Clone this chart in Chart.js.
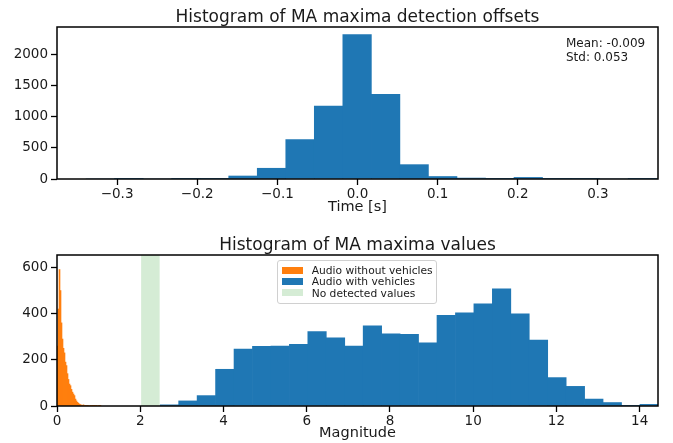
<!DOCTYPE html>
<html>
<head>
<meta charset="utf-8">
<script src="https://cdn.jsdelivr.net/npm/chart.js@4/dist/chart.umd.min.js"></script>
<style>
html,body{margin:0;padding:0;background:#fff;}
#wrap{position:relative;width:673px;height:443px;overflow:hidden;font-family:"DejaVu Sans",sans-serif;color:#1a1a1a;}
canvas{position:absolute;left:0;}
#c1{top:0;}
#c2{top:222px;}
.title{position:absolute;left:0;width:715px;text-align:center;font-size:17px;line-height:20px;white-space:nowrap;}
.stats{position:absolute;left:566px;top:35.5px;font-size:12px;line-height:14px;white-space:nowrap;}
.legend{position:absolute;left:277px;top:260px;width:158px;height:42px;border:1px solid #d0d0d0;border-radius:3px;background:rgba(255,255,255,0.8);font-size:10.7px;}
.legend .row{position:absolute;left:4.3px;height:11px;line-height:11px;white-space:nowrap;}
.legend .sw{display:inline-block;width:21px;height:7px;vertical-align:middle;margin-right:8.4px;position:relative;top:-1px;}
</style>
</head>
<body>
<div id="wrap">
  <canvas id="c1" width="673" height="222"></canvas>
  <canvas id="c2" width="673" height="221"></canvas>
  <div class="title" style="top:5.7px">Histogram of MA maxima detection offsets</div>
  <div class="title" style="top:234px">Histogram of MA maxima values</div>
  <div class="stats">Mean: -0.009<br>Std: 0.053</div>
  <div class="legend">
    <div class="row" style="top:4px"><span class="sw" style="background:#ff7f0e"></span>Audio without vehicles</div>
    <div class="row" style="top:15.3px"><span class="sw" style="background:#1f77b4"></span>Audio with vehicles</div>
    <div class="row" style="top:26.6px"><span class="sw" style="background:#d5ecd5"></span>No detected values</div>
  </div>
</div>
<script>
// ---- Top histogram: detection offsets (bin centers, seconds) ----
const offsetBinCenters = [-0.3209, -0.2853, -0.2497, -0.2141, -0.1785, -0.1429, -0.1073, -0.0717, -0.0361, -0.0005,
                          0.0351, 0.0707, 0.1063, 0.1419, 0.1775, 0.2131, 0.2487, 0.2843, 0.3199, 0.3555];
const offsetCounts = [0, 1, 0, 2, 3, 48, 172, 632, 1168, 2313, 1355, 230, 40, 15, 3, 25, 2, 1, 0, 1];
const offsetXRange = [-0.375, 0.375];
const offsetYMax = 2435;
const offsetXTicks = [-0.3, -0.2, -0.1, 0.0, 0.1, 0.2, 0.3];
const offsetYTicks = [0, 500, 1000, 1500, 2000];

// ---- Bottom histogram: maxima values ----
const withoutVehCenters = [0.012, 0.036, 0.060, 0.084, 0.108, 0.132, 0.156, 0.180, 0.204, 0.228, 0.252, 0.276,
                           0.300, 0.324, 0.348, 0.372, 0.396, 0.420, 0.444, 0.468, 0.492, 0.516, 0.540, 0.564,
                           0.588, 0.612, 0.636, 0.660, 0.684, 0.708, 0.732, 0.756, 0.780, 0.804, 0.828, 0.852,
                           0.876, 0.900, 0.924, 0.948, 0.972, 0.996, 1.020, 1.044];
const withoutVehCounts = [260, 420, 591, 500, 360, 290, 250, 230, 190, 175, 140, 115,
                          95, 88, 72, 60, 52, 45, 30, 22, 16, 12, 8, 6,
                          4, 3, 5, 2, 1, 3, 1, 2, 0, 1, 2, 1,
                          3, 1, 2, 1, 0, 2, 1, 1];
const withVehCenters = [2.702, 3.145, 3.588, 4.032, 4.475, 4.918, 5.362, 5.805, 6.248, 6.692, 7.135, 7.578, 8.022,
                        8.465, 8.908, 9.352, 9.795, 10.238, 10.682, 11.125, 11.568, 12.012, 12.455, 12.898,
                        13.342, 13.785, 14.228];
const withVehCounts = [5, 22, 45, 159, 247, 258, 260, 267, 322, 295, 260, 347, 313,
                       310, 274, 393, 403, 443, 508, 399, 286, 123, 85, 30,
                       15, 3, 7];
const noDetectedRange = [2.02, 2.47];
const valuesXRange = [0, 14.44];
const valuesYMax = 654;
const valuesXTicks = [0, 2, 4, 6, 8, 10, 12, 14];
const valuesYTicks = [0, 200, 400, 600];

const FONT = "'DejaVu Sans', sans-serif";
const TXT = '#1a1a1a';

const framePlugin = {
  id: 'frame',
  afterDraw(chart) {
    const {ctx, chartArea: a} = chart;
    ctx.save();
    ctx.strokeStyle = '#000';
    ctx.lineWidth = 1.5;
    ctx.strokeRect(a.left, a.top, a.right - a.left, a.bottom - a.top);
    ctx.restore();
  }
};

const setTicks = arr => (s => { s.ticks = arr.map(v => ({value: v})); });

function xScale(range, tickVals, fmt, title, height, titlePadBottom) {
  return {
    type: 'linear', min: range[0], max: range[1], offset: false,
    grid: {display: true, drawOnChartArea: false, drawTicks: true, tickLength: 6, tickWidth: 1.3, tickColor: '#000', offset: false},
    border: {display: false},
    afterBuildTicks: setTicks(tickVals),
    ticks: {autoSkip: false, maxRotation: 0, padding: 1.5, color: TXT,
            font: {family: FONT, size: 13.5}, callback: fmt},
    title: {display: true, text: title, color: TXT, font: {family: FONT, size: 14.5}, padding: {top: 0, bottom: titlePadBottom}},
    afterFit(s) { s.height = height; }
  };
}
function yScale(max, tickVals) {
  return {
    type: 'linear', min: 0, max: max,
    grid: {display: true, drawOnChartArea: false, drawTicks: true, tickLength: 6, tickWidth: 1.3, tickColor: '#000'},
    border: {display: false},
    afterBuildTicks: setTicks(tickVals),
    ticks: {padding: 3, color: TXT, font: {family: FONT, size: 13.5},
            callback: v => String(Math.round(v))},
    afterFit(s) { s.width = 57; }
  };
}
// contiguous histogram bars: each bar spans half-way to its neighbours
const binBars = {borderWidth: 0, barThickness: 'flex', barPercentage: 1, categoryPercentage: 1};
// fine-binned series overlaid (not grouped) on the same axis, width = its own bin spacing
const fineBars = {borderWidth: 0, barPercentage: 1, categoryPercentage: 1, grouped: false};
const signed = v => (v < -1e-9 ? '\u2212' : '') + Math.abs(v).toFixed(1);

new Chart(document.getElementById('c1'), {
  type: 'bar',
  data: {
    datasets: [Object.assign({
      label: 'Offsets',
      data: offsetBinCenters.map((x, i) => ({x: x, y: offsetCounts[i]})),
      backgroundColor: '#1f77b4'
    }, binBars)]
  },
  options: {
    responsive: false, animation: false, devicePixelRatio: 1,
    layout: {padding: {left: 0, right: 15, top: 27, bottom: 0}},
    plugins: {legend: {display: false}, title: {display: false}, tooltip: {enabled: false}},
    scales: {
      x: xScale(offsetXRange, offsetXTicks, v => signed(v), 'Time [s]', 43, 5.6),
      y: yScale(offsetYMax, offsetYTicks)
    }
  },
  plugins: [framePlugin]
});

new Chart(document.getElementById('c2'), {
  type: 'bar',
  data: {
    datasets: [
      Object.assign({
        label: 'Audio without vehicles',
        data: withoutVehCenters.map((x, i) => ({x: x, y: withoutVehCounts[i]})),
        backgroundColor: '#ff7f0e', order: 1
      }, fineBars),
      Object.assign({
        label: 'Audio with vehicles',
        data: withVehCenters.map((x, i) => ({x: x, y: withVehCounts[i]})),
        backgroundColor: '#1f77b4', order: 2
      }, binBars),
      {
        type: 'line', label: 'No detected values',
        data: noDetectedRange.map(x => ({x: x, y: valuesYMax})),
        fill: 'origin', backgroundColor: '#d5ecd5', borderColor: 'rgba(0,0,0,0)', borderWidth: 0,
        pointRadius: 0, order: 3, tension: 0
      }
    ]
  },
  options: {
    responsive: false, animation: false, devicePixelRatio: 1,
    layout: {padding: {left: 0, right: 15, top: 33, bottom: 0}},
    plugins: {legend: {display: false}, title: {display: false}, tooltip: {enabled: false}},
    scales: {
      x: xScale(valuesXRange, valuesXTicks, v => String(Math.round(v)), 'Magnitude', 37, 0.9),
      y: yScale(valuesYMax, valuesYTicks)
    }
  },
  plugins: [framePlugin]
});
</script>
</body>
</html>
